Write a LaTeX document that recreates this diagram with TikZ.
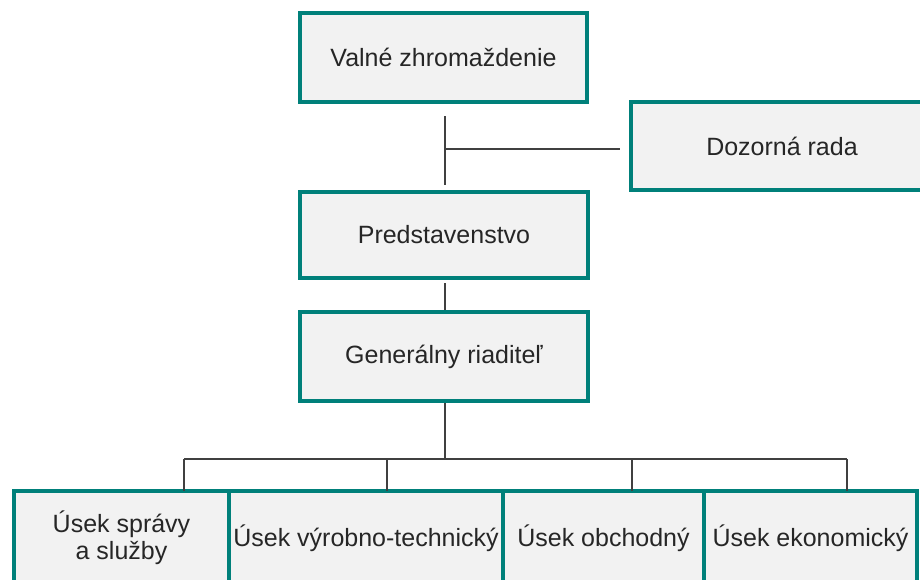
\documentclass[tikz,border=0pt]{standalone}
\usepackage{fontspec}
\setmainfont{Liberation Sans}
\definecolor{teal1}{RGB}{0,128,122}
\definecolor{boxfill}{RGB}{242,242,242}
\definecolor{linegray}{RGB}{64,64,64}
\definecolor{txt}{RGB}{38,38,38}
\begin{document}
\begin{tikzpicture}[x=1pt,y=-1pt,
  orgbox/.style={draw=teal1, line width=4pt, fill=boxfill, inner sep=0pt, outer sep=0pt,
    align=center, text=txt, font=\fontsize{25}{27}\selectfont},
  conn/.style={draw=linegray, line width=1.3pt}]
\useasboundingbox (0,0) rectangle (920,579);
\clip (0,0) rectangle (920,579);
\fill[white] (0,0) rectangle (920,579);
% top boxes
\node[orgbox, minimum width=287pt, minimum height=89pt] (vz) at (443.5,57.5) {Valné zhromaždenie};
\node[orgbox, minimum width=302pt, minimum height=88pt] (dr) at (782,146) {Dozorná rada};
\node[orgbox, minimum width=288pt, minimum height=86pt] (pr) at (444,235) {Predstavenstvo};
\node[orgbox, minimum width=288pt, minimum height=89pt] (gr) at (444,356.5) {Generálny riaditeľ};
% bottom boxes
\node[orgbox, minimum width=215pt, minimum height=94pt] (u1) at (121.5,538) {Úsek správy\\a služby};
\node[orgbox, minimum width=274pt, minimum height=94pt] (u2) at (366,538) {Úsek výrobno-technický};
\node[orgbox, minimum width=201pt, minimum height=94pt] (u3) at (603.5,538) {Úsek obchodný};
\node[orgbox, minimum width=213pt, minimum height=94pt] (u4) at (810.5,538) {Úsek ekonomický};
% connector coordinates
\coordinate (t1) at (445,116);
\coordinate (t2) at (445,185);
\coordinate (tj) at (445,149);
\coordinate (td) at (620,149);
\coordinate (m1) at (445,283);
\coordinate (m2) at (445,309.5);
\coordinate (g1) at (445,403);
\coordinate (bus) at (445,459);
\coordinate (b1) at (184,459);
\coordinate (b2) at (387,459);
\coordinate (b3) at (632,459);
\coordinate (b4) at (847,459);
% connectors
\draw[conn] (t1) -- (t2);
\draw[conn] (tj) -- (td);
\draw[conn] (m1) -- (m2);
\draw[conn] (g1) -- (bus);
\draw[conn] (b1) -- (b4);
\draw[conn] (b1) -- (b1 |- u1.north);
\draw[conn] (b2) -- (b2 |- u2.north);
\draw[conn] (b3) -- (b3 |- u3.north);
\draw[conn] (b4) -- (b4 |- u4.north);
\end{tikzpicture}
\end{document}
